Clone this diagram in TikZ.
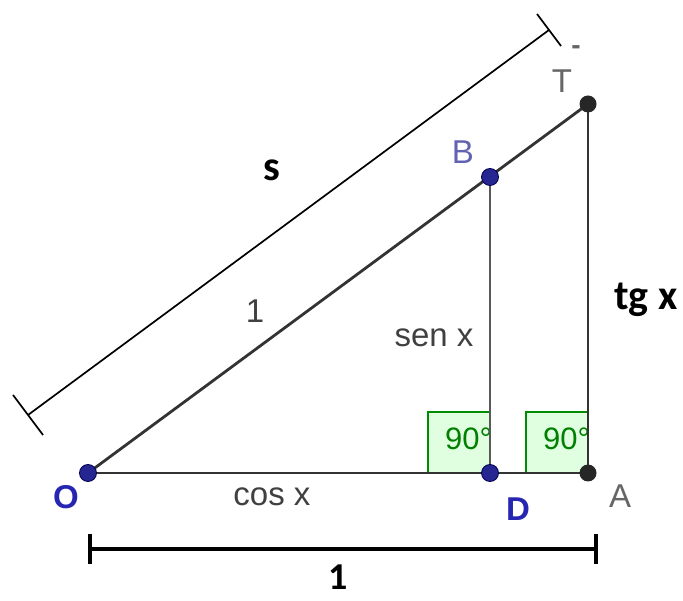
\documentclass[tikz,border=0pt]{standalone}
\usepackage{fontspec}
\setmainfont{Liberation Sans}
\newfontfamily\calib{Carlito}
\usetikzlibrary{calc}
\begin{document}
\begin{tikzpicture}[x=1pt,y=-1pt,
  seg/.style={draw=black!80, line width=2.8pt},
  vseg/.style={draw=black!65, line width=2.8pt},
  bpt/.style={circle, fill=blue!50!black!85, draw=blue!30!black, line width=0.8pt, inner sep=0pt, minimum size=17pt},
  kpt/.style={circle, fill=black!85, inner sep=0pt, minimum size=17pt},
  lab/.style={font=\fontsize{33}{38}\selectfont, text=black!75, inner sep=0pt},
  blab/.style={font=\fontsize{33}{38}\selectfont, text=blue!65!black!85, inner sep=0pt},
  glab/.style={font=\fontsize{33}{38}\selectfont, text=black!60, inner sep=0pt},
  boldlab/.style={font=\calib\bfseries\fontsize{42}{48}\selectfont, text=black, inner sep=0pt},
  rabox/.style={fill=green!12, draw=green!55!black, line width=2.2pt},
  ralab/.style={font=\fontsize{31}{36}\selectfont, text=green!50!black, inner sep=0pt, anchor=west},
  dim/.style={draw=black, line width=1.7pt},
  dimb/.style={draw=black, line width=3.2pt}]
\useasboundingbox (0,0) rectangle (683,601);
% points
\coordinate (O) at (88,473);
\coordinate (D) at (490,473);
\coordinate (A) at (588,473);
\coordinate (B) at (490,177);
\coordinate (T) at (588,104);
% right angle marks
\draw[rabox] (428,473) -- (428,412) -- (490,412) -- (490,473) -- cycle;
\draw[rabox] (526,473) -- (526,412) -- (588,412) -- (588,473) -- cycle;
\node[ralab] (r1) at (445,439) {90°};
\node[ralab] (r2) at (543,439) {90°};
% segments
\draw[seg] (O) -- (A);
\draw[seg] (O) -- (T);
\draw[vseg] (B) -- (D);
\draw[seg] (T) -- (A);
% point markers
\node[bpt] (pO) at (O) {};
\node[bpt] (pB) at (B) {};
\node[bpt] (pD) at (D) {};
\node[kpt] (pT) at (T) {};
\node[kpt] (pA) at (A) {};
% labels
\node[blab, font=\bfseries\fontsize{33}{38}\selectfont] (lO) at (66,497) {O};
\node[blab, font=\bfseries\fontsize{33}{38}\selectfont] (lD) at (518,509) {D};
\node[glab] (lA) at (620,496) {A};
\node[blab, text=blue!45!white!70!black] (lB) at (463,152) {B};
\node[glab] (lT) at (562,81) {T};
\node[glab, font=\bfseries\fontsize{28}{30}\selectfont] (lTb) at (576,50) {-};
\node[lab] (l1) at (255,311) {1};
\node[lab] (lsen) at (434,338) {sen x};
\node[lab] (lcos) at (272,497) {cos x};
\node[boldlab] (ltg) at (646,300) {tg x};
\node[boldlab] (ls) at (272,170) {s};
% upper dimension line
\coordinate (U1) at (28,415);
\coordinate (U2) at (549,30);
\draw[dim] (U1) -- (U2);
\draw[dim] ($(U1)+(-15,-20)$) -- ($(U1)+(15,20)$);
\draw[dim] ($(U2)+(-12,-16)$) -- ($(U2)+(12,16)$);
% lower dimension line
\coordinate (L1) at (90,549);
\coordinate (L2) at (596,549);
\draw[dimb] (L1) -- (L2);
\draw[dimb] ($(L1)+(0,-15)$) -- ($(L1)+(0,15)$);
\draw[dimb] ($(L2)+(0,-15)$) -- ($(L2)+(0,15)$);
\node[boldlab, font=\calib\bfseries\fontsize{38}{42}\selectfont] (lone) at (338,577) {1};
\end{tikzpicture}
\end{document}
